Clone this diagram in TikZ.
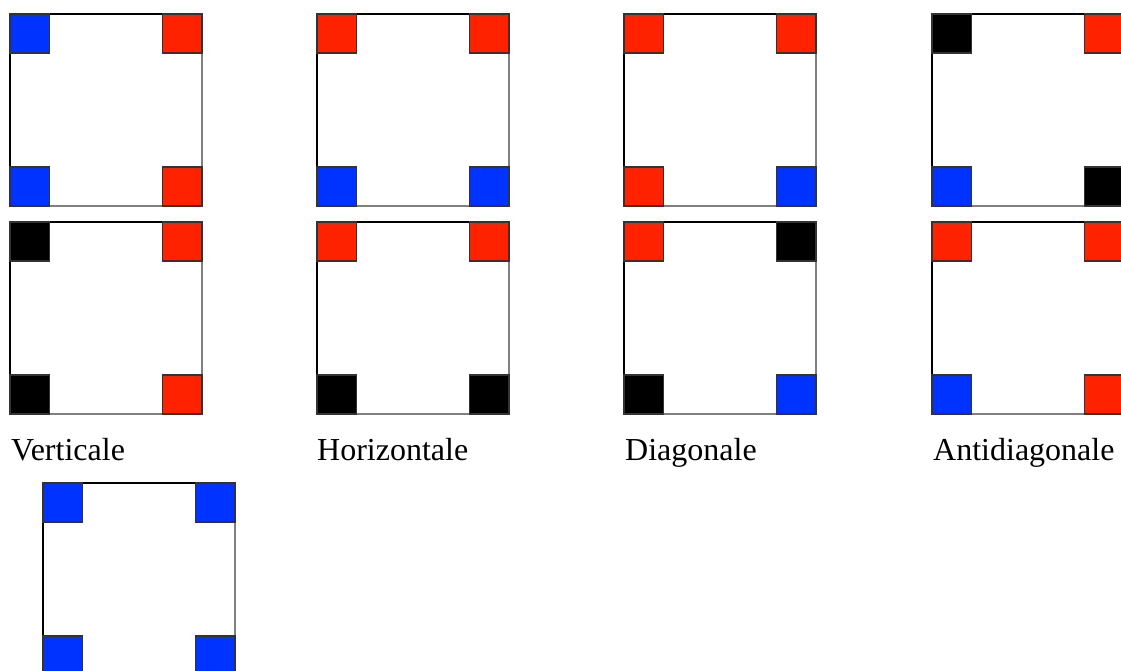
\documentclass[tikz,border=0pt]{standalone}
\usepackage{fontspec}
\setmainfont{Liberation Serif}
\definecolor{cred}{RGB}{255,34,0}
\definecolor{cblue}{RGB}{0,51,255}
\definecolor{cblk}{RGB}{0,0,0}
\definecolor{edgegr}{RGB}{128,128,128}
\tikzset{
  board/.style={anchor=north west,minimum width=192pt,minimum height=192pt,inner sep=0pt,outer sep=0pt,fill=white,draw=none},
  cell/.style={minimum width=39.5pt,minimum height=39pt,inner sep=0pt,outer sep=0pt,draw=black!80,line width=1.3pt},
  edgeblack/.style={draw=black,line width=2pt},
  edgegray/.style={draw=edgegr,line width=2.6pt},
  caption/.style={anchor=base west,inner sep=0pt,font=\fontsize{32}{38}\selectfont}
}
\newcommand\panelbox[7]{%
  \node[board] (#1) at (#2,#3) {};
  \draw[edgegray] (#1.north east) -- (#1.south east) -- (#1.south west);
  \draw[edgeblack] (#1.south west) -- (#1.north west) -- (#1.north east);
  \node[cell,fill=#4,anchor=north west] (#1tl) at (#1.north west) {};
  \node[cell,fill=#5,anchor=north east] (#1tr) at (#1.north east) {};
  \node[cell,fill=#6,anchor=south west] (#1bl) at (#1.south west) {};
  \node[cell,fill=#7,anchor=south east] (#1br) at (#1.south east) {};
}
\begin{document}
\begin{tikzpicture}[x=1pt,y=-1pt]
\useasboundingbox (0,0) rectangle (1121,671);
\clip (0,0) rectangle (1121,671);
\fill[white] (0,0) rectangle (1121,671);
% row 1
\panelbox{pa}{10}{14}{cblue}{cred}{cblue}{cred}
\panelbox{pb}{317}{14}{cred}{cred}{cblue}{cblue}
\panelbox{pc}{624}{14}{cred}{cred}{cred}{cblue}
\panelbox{pd}{932}{14}{cblk}{cred}{cblue}{cblk}
% row 2
\panelbox{qa}{10}{222}{cblk}{cred}{cblk}{cred}
\panelbox{qb}{317}{222}{cred}{cred}{cblk}{cblk}
\panelbox{qc}{624}{222}{cred}{cblk}{cblk}{cblue}
\panelbox{qd}{932}{222}{cred}{cred}{cblue}{cred}
% captions
\node[caption] (ta) at (11,460) {Verticale};
\node[caption] (tb) at (317,460) {Horizontale};
\node[caption] (tc) at (625,460) {Diagonale};
\node[caption] (td) at (933,460) {Antidiagonale};
% row 3
\panelbox{ra}{43}{483}{cblue}{cblue}{cblue}{cblue}
\end{tikzpicture}
\end{document}
